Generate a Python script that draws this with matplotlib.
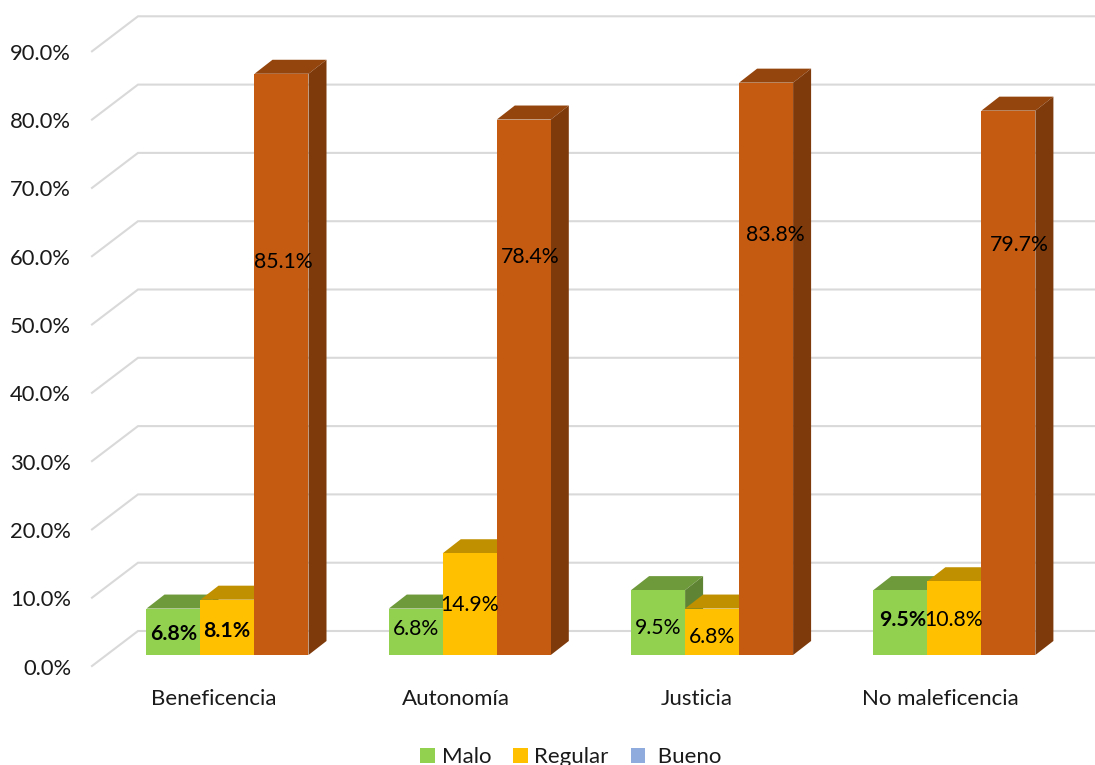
import matplotlib
matplotlib.use("Agg")
import matplotlib.pyplot as plt
from matplotlib.patches import Polygon, Patch
from matplotlib.transforms import ScaledTranslation

plt.rcParams['font.family'] = ['Lato', 'DejaVu Sans']

categories = ["Beneficencia", "Autonomía", "Justicia", "No maleficencia"]
malo = [6.8, 6.8, 9.5, 9.5]
regular = [8.1, 14.9, 6.8, 10.8]
bueno = [85.1, 78.4, 83.8, 79.7]
y_ticks = [0, 10, 20, 30, 40, 50, 60, 70, 80, 90]
legend_names = ["Malo", "Regular", " Bueno"]

# layout of the picture, in pixels
W, H = 1095, 765
PX_PER_PCT = 6.83
PX_PER_CAT = 242.3
BASE_Y = 655       # pixel row of value 0 on the bar fronts
CENTER_X = 227.5   # pixel column of the first group centre
LEFT, BOTTOM = 92, 666
BAR_W = 54 / PX_PER_CAT
DX = 18 / PX_PER_CAT    # bar depth
DY = 14 / PX_PER_PCT
WALL_DX = 46 / PX_PER_CAT
FRONT_Y = (BASE_Y - BOTTOM) / PX_PER_PCT   # front edge of the floor
BACK_Y = (BASE_Y - 631) / PX_PER_PCT       # back edge of the floor


def xpx(p):
    return (p - CENTER_X) / PX_PER_CAT


def ypx(p):
    return (BASE_Y - p) / PX_PER_PCT


fig = plt.figure(figsize=(W / 100, H / 100), dpi=100)
ax = fig.add_axes([LEFT / W, 1 - BOTTOM / H, (W - LEFT) / W, BOTTOM / H])
ax.set_xlim(xpx(LEFT), xpx(W))
ax.set_ylim(ypx(BOTTOM), ypx(0))
for s in ax.spines.values():
    s.set_visible(False)

# walls
grid_c = "#d9d9d9"
for v in y_ticks:
    ax.plot([xpx(LEFT), xpx(LEFT) + WALL_DX, xpx(W)],
            [v + FRONT_Y, v + BACK_Y, v + BACK_Y],
            color=grid_c, lw=1.5, zorder=1, solid_joinstyle="miter", clip_on=False)

# bars, left to right so the nearer one hides the side of the previous one
series = [malo, regular, bueno]
front_c = ["#92d050", "#ffc000", "#c55a11"]
top_c = ["#6f9a3c", "#c09000", "#94440d"]
side_c = ["#5f8433", "#a47c00", "#7f3a0b"]
z = 2
for i in range(len(categories)):
    for j, vals in enumerate(series):
        v = vals[i]
        x0 = i + (j - 1.5) * BAR_W
        x1 = x0 + BAR_W
        ax.add_patch(Polygon([(x0, v), (x0 + DX, v + DY), (x1 + DX, v + DY), (x1, v)],
                             facecolor=top_c[j], edgecolor="none", zorder=z))
        ax.add_patch(Polygon([(x1, 0), (x1 + DX, DY), (x1 + DX, v + DY), (x1, v)],
                             facecolor=side_c[j], edgecolor="none", zorder=z))
        ax.bar(x0, v, BAR_W, align="edge", color=front_c[j], zorder=z + 0.5)
        z += 1

# data labels were moved by hand in the original, so each has its own place
label_pos = [
    [(174, 634), (227, 631), (283, 262)],
    [(416, 629), (470, 605), (530, 257)],
    [(658, 628), (712, 637), (775, 235)],
    [(903, 620), (954, 620), (1019, 245)],
]
bold_labels = [(0, 0), (0, 1), (3, 0)]
for i in range(len(categories)):
    for j, vals in enumerate(series):
        px, py = label_pos[i][j]
        ax.text(xpx(px), ypx(py), f"{vals[i]:.1f}%", ha="center", va="center",
                fontsize=15.3, color="black", zorder=100,
                fontweight="bold" if (i, j) in bold_labels else "normal")

# axes labels
ax.set_yticks([v + FRONT_Y for v in y_ticks])
ax.set_yticklabels([f"{v:.1f}%" for v in y_ticks])
ax.set_xticks([xpx(214), xpx(456), xpx(697), xpx(940)])
ax.set_xticklabels(categories)
ax.tick_params(axis="y", length=0, pad=15, labelsize=15.8, labelcolor="#1a1a1a")
ax.tick_params(axis="x", length=0, pad=16.5, labelsize=16, labelcolor="#1a1a1a")
shift = ScaledTranslation(0, -0.6 / 100, fig.dpi_scale_trans)
for t in ax.get_yticklabels():
    t.set_transform(t.get_transform() + shift)

handles = [Patch(facecolor=c, edgecolor="none", lw=0) for c in ["#92d050", "#ffc000", "#8faadc"]]
fig.legend(handles, legend_names, loc="center", bbox_to_anchor=(571 / W, 1 - 757 / H),
           ncol=3, frameon=False, fontsize=16, handlelength=0.65, handleheight=0.65,
           handletextpad=0.3, columnspacing=1.0, borderpad=0, labelcolor="#1a1a1a")

fig.savefig("out.png", dpi=100)
